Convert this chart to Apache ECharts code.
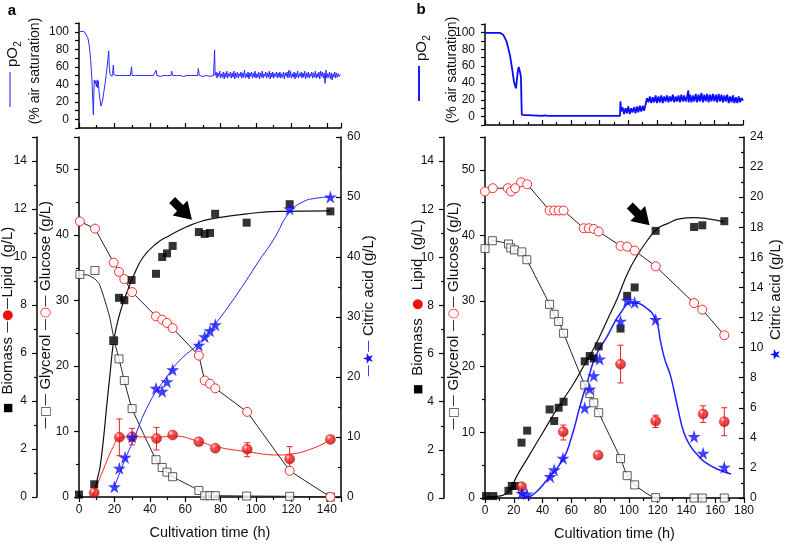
<!DOCTYPE html>
<html>
<head>
<meta charset="utf-8">
<script src="https://cdn.jsdelivr.net/npm/echarts@6/dist/echarts.min.js"></script>
<style>
html, body { margin: 0; padding: 0; background: #fff; }
#chart { width: 785px; height: 547px; }
</style>
</head>
<body>
<div id="chart"></div>
<script>
// ---------- panel a : [time h, value] ----------
const biomassA = [[0,0.1],[8.6,0.53],[19.6,6.5],[22.6,8.3],[25.6,8.2],[29.7,9.04],[43.5,9.3],[47,10.0],[49.7,10.15],[52.9,10.46],[67.7,11.04],[71,10.96],[74,11.0],[76.9,11.8],[94.7,11.43],[119,12.2],[142,11.9]];
const biomassFitA = [[0,0.1],[2.5,-0.05],[5.3,-0.2],[7,-0.1],[8.6,0.22],[10.5,0.8],[11.9,1.26],[13.8,2.4],[15.6,3.76],[17.5,5.1],[19.4,6.4],[21.5,7.2],[24.1,7.9],[26.9,8.5],[30.7,9.2],[36.3,10.0],[43.9,10.57],[51.2,10.9],[60.8,11.26],[68.3,11.47],[75.8,11.6],[94.7,11.8],[113,11.9],[142,11.92]];
const glycerolA = [[0.5,34.0],[9,34.6],[19.6,23.9],[22.6,21.1],[25.6,17.8],[30,13.5],[43.5,5.7],[47,4.5],[49.7,3.8],[52.9,3.1],[67.7,1.0],[71,0.2],[74,0.2],[77,0.2],[94.7,0.15],[119,0.1],[142,0]];
const glycerolLineA = [[0.5,34.0],[5,33.9],[9,33.3],[11.3,32.6],[13.5,31.0],[17.3,27.5],[20,23.8],[22.6,21.1],[25.6,17.8],[30,13.5],[43.5,5.7],[47,4.5],[49.7,3.8],[52.9,3.1],[67.7,1.0],[71,0.2],[74,0.2],[77,0.2],[94.7,0.15],[119,0.1],[142,0]];
const glucoseA = [[0.5,42.1],[9,41.0],[19.6,35.8],[22.6,34.4],[25.6,33.3],[30,31.3],[43.5,27.6],[47,27.1],[49.7,26.6],[52.9,25.8],[67.7,21.6],[71,17.8],[74,17.3],[77,16.6],[95,13.0],[119,4.0],[142,0]];
const lipidA = [[8.6,0.18],[22.8,2.49],[30,2.51],[43.8,2.44],[52.9,2.58],[67.7,2.3],[77,2.03],[95,1.99],[119,1.58],[142,2.4]];
const lipidErrA = [[22.8,1.72,3.25],[30,2.17,2.86],[43.8,1.96,2.9],[95,1.68,2.26],[119,1.1,2.1]];
const lipidFitA = [[8.6,0.18],[13.7,1.13],[19.4,2.1],[22.8,2.45],[30.7,2.51],[43.9,2.49],[53.2,2.54],[68.3,2.3],[77.2,2.1],[94.7,1.89],[113.5,1.75],[119.1,1.78],[132.3,2.03],[142.3,2.4]];
const citricA = [[20,1.7],[22.8,4.8],[26,6.6],[30,10.0],[43.5,18.1],[47,17.6],[49.7,19.2],[52.9,21.2],[67.7,25.3],[71,26.7],[74,27.7],[77,28.7],[119,48.0],[142,50.0]];
const citricFitA = [[20,1.7],[25,5.5],[30,9.0],[40,15.8],[50,20.2],[57,22.8],[67.7,25.6],[75.8,28.4],[85,32.0],[94.7,36.2],[102,39.5],[109.7,42.8],[119,47.5],[126.6,49.2],[134,49.8],[142,50.0]];
// pO2 trace, start-up part as [time, %]
const pO2A = [[0,100],[1.5,100.5],[3,100],[4,98],[5,93],[5.8,84],[6.6,68],[7.3,45],[7.8,22],[8.1,5],[8.4,30],[8.6,45],[9,41],[9.4,44],[9.8,37],[10.3,45],[10.6,36],[10.9,44],[11.4,30],[11.9,22],[12.4,15],[12.9,16],[13.4,22],[14,31],[14.7,40],[15.3,50],[16,62],[16.5,72],[16.8,78],[17.1,60],[17.5,52],[18,50],[18.5,49],[19,52],[19.4,62],[19.7,51],
  [20,51],[21,50],[22,51],[23,50],[24,52],[25,50],[26,51],[27,50],[28,51],[29,50],[29.7,60],[30,50],[31,51],[32,50],[33,51],[34,50],[35,52],[36,50],[37,51],[38,50],[39,51],[40,50],[41,51],[42,50],[43,51],[43.5,56],[44,50],[45,51],[46,49],[47,51],[48,50],[49,51],[50,50],[51,51],[52,50],[52.3,55],[53,50],[54,51],[55,50],[56,52],[57,50],[58,51],[59,49],[60,51],[61,50],[62,52],[63,50],[64,51],[65,50],[66,51],[67,50],[67.4,58],[68,50],[69,51],[70,49],[71,51],[72,50],[73,51],[74,49],[75,51],[76,50],[76.6,79],[76.9,50]];
// logged every 0.5 h from 77 h onwards
const pO2ABandStart = 77, pO2ABandStep = 0.5;
const pO2ABand = [
  48,54,47,53,49,55,47,52,48,54, 46,53,48,55,47,52,49,54,47,53,
  48,55,46,53,48,54,47,52,49,54, 47,53,48,56,47,52,48,54,46,53,
  49,54,47,53,48,55,47,52,48,54, 46,53,48,55,47,52,49,54,47,53,
  48,55,46,53,48,54,47,52,49,54, 47,53,48,54,47,52,48,54,46,53,
  49,54,47,56,48,55,47,52,48,54, 46,53,48,55,47,52,49,54,47,53,
  48,55,46,53,48,54,47,52,49,54, 47,53,48,55,47,52,48,54,46,55,
  49,54,47,53,41,56,47,52,48,54, 46,53,45,52,48,54,47,53,48,52,
  49,51];

// ---------- panel b ----------
const biomassB = [[0.7,0.08],[5.8,0.08],[16.3,0.3],[18.6,0.5],[21,0.5],[25.4,2.3],[29.3,2.8],[44.9,3.68],[48.1,3.2],[51.2,3.75],[54.6,4.0],[69.3,5.68],[72.8,5.9],[75.6,5.8],[79,6.3],[94.2,7.04],[98.8,8.4],[104,8.75],[118.6,11.1],[145.3,11.26],[151,11.33],[166.3,11.5]];
const biomassFitB = [[0,0.05],[10,0.08],[15,0.2],[18,0.4],[22,0.9],[30,1.7],[40,2.7],[50,3.7],[60,4.6],[66.3,5.24],[76.7,6.35],[85,7.4],[92,8.3],[98.8,9.3],[105,10.0],[112.8,10.7],[120,11.2],[126.8,11.4],[135,11.6],[145.3,11.65],[155,11.6],[166.3,11.47]];
const glycerolB = [[0,38.0],[5.1,39.2],[16.3,38.7],[17.9,38.1],[20.5,37.8],[25.6,37.5],[29.1,36.3],[44.9,29.5],[48.1,28.0],[51.2,26.9],[54.6,25.1],[69.3,17.2],[72.8,15.9],[75.6,14.5],[79,13.0],[94.2,6.0],[98.8,3.4],[104,2.0],[118.6,0.05],[145.3,0],[151,0],[166.3,0]];
const glucoseB = [[0,46.7],[5.4,47.2],[15.8,47.2],[18.1,46.7],[21,47.2],[25.1,48.1],[29.3,47.8],[44.9,43.8],[48.1,43.8],[51.2,43.8],[54.6,43.8],[68.6,41.1],[72.1,41.1],[75.6,41.0],[79,40.6],[94.2,38.4],[98.8,38.3],[104,37.7],[118.6,35.3],[145.3,29.7],[151,28.7],[166.3,24.8]];
const lipidB = [[25.4,0.47],[54.4,2.75],[78.6,1.78],[94.2,5.56],[118.6,3.2],[151.6,3.49],[166.3,3.17]];
const lipidErrB = [[54.4,2.41,3.03],[94.2,4.78,6.35],[118.6,2.93,3.44],[151.6,3.14,3.83],[166.3,2.59,3.75]];
const citricB = [[25.6,0.31],[29.1,0.27],[45.3,1.42],[48.1,1.87],[54.2,2.64],[69.3,6.0],[72.8,7.25],[75.6,8.13],[79.7,9.24],[94.2,11.75],[98.8,13.13],[104,13.0],[118.6,11.87],[145.3,4.09],[151.6,2.98],[166.3,2.04]];
const citricFitB = [[23,0.42],[26,0.2],[29,0.09],[35,0.35],[43,1.2],[54,2.53],[60,4.0],[66.3,6.2],[72,8.0],[76.7,9.4],[84.9,10.75],[94.2,12.3],[102.3,12.98],[110.5,12.75],[118.6,11.87],[122,10.4],[125,9.2],[129,8.1],[133.7,6.1],[138.4,4.3],[143,3.42],[147.7,2.87],[152.3,2.42],[161.7,1.91],[171,1.6]];
const pO2B = [[0,99.5],[5,99.5],[10.5,99.5],[12.8,97],[15.1,89],[17.4,73],[19.1,55],[20.2,41.5],[21,37],[21.6,33.6],[22,40],[22.6,49],[23.1,56],[23.5,59],[24,57],[24.4,53],[24.8,50],[25.1,47],[25.4,20],[25.7,2],[26.7,0.8],[40,0.8],[42,1.5],[44,0.9],[60,0.8],[80,0.9],[94.2,1.0],
  [94.5,18],[95,6],[96,11],[97,3],[98,10],[99,4],[100,12],[101,3],[102,10],[103,5],[104,11],[105,4],[106,12],[107,5],[108,13],[109,6],[110,13],[111,7],[112,14],[112.6,12],
  [113,22],[114,17],[115,24],[116,16],[117,23],[118,17],[119,25],[120,16],[121,24],[122,17],[123,25],[124,16],[125,24],[126,18],[127,25],[128,17],[129,24],[130,18],[131,26],[132,17],[133,24],[134,18],[135,25],[136,17],[137,26],[138,18],[139,25],[140,18],[141,24],[141.9,31],[142,17],[143,26],[144,17],[145,25],[146,18],[147,27],[148,17],[149,26],[150,18],[151,28],[152,17],[153,26],[154,18],[155,27],[156,17],[157,26],[158,18],[159,27],[160,18],[161,26],[162,17],[163,27],[164,18],[165,26],[166,17],[167,25],[168,18],[169,26],[170,16],[171,24],[172,17],[173,25],[174,16],[175,23],[176,16],[177,24],[178,17],[179,22],[180,19]];

// arrow annotations [time, biomass]
const arrowA = [58.2, 11.96];
const arrowB = [107.5, 11.74];

const FONT = 'Liberation Sans, Arial, sans-serif';
const STAR = 'path://M50,0 L61.2,34.5 L97.6,34.5 L68.2,55.9 L79.4,90.5 L50,69.1 L20.6,90.5 L31.8,55.9 L2.4,34.5 L38.8,34.5 Z';
const ARROW = 'path://M0,9 L12,9 L12,0 L30,15 L12,30 L12,21 L0,21 Z';
const ball = new echarts.graphic.RadialGradient(0.35, 0.3, 0.75, [
  { offset: 0, color: '#ffe6e6' },
  { offset: 0.3, color: '#ff2a2a' },
  { offset: 1, color: '#b00000' }
]);

const pO2AFull = pO2A.concat(pO2ABand.map((v, i) => [pO2ABandStart + i * pO2ABandStep, v]));

function xAx(grid, max, top) {
  return {
    type: 'value', gridIndex: grid, min: 0, max: max, interval: 20,
    axisLine: { onZero: false, lineStyle: { color: '#000', width: 1.5 } },
    axisTick: { inside: top, length: 5, lineStyle: { color: '#000', width: 1.2 } },
    minorTick: { show: true, splitNumber: 2, length: 3, lineStyle: { color: '#000', width: 1.2 } },
    axisLabel: { show: !top, margin: 7, color: '#111', fontSize: 12, fontFamily: FONT },
    splitLine: { show: false },
    name: top ? '' : 'Cultivation time (h)', nameLocation: 'middle', nameGap: 28,
    nameTextStyle: { fontSize: 14.5, color: '#111', fontFamily: FONT }
  };
}
function yAx(grid, min, max, interval, pos, offset, opt) {
  opt = opt || {};
  return {
    type: 'value', gridIndex: grid, min: min, max: max, interval: interval,
    position: pos, offset: offset,
    axisLine: { show: true, onZero: false, lineStyle: { color: '#000', width: 1.5 } },
    axisTick: { show: true, inside: pos === 'right', length: opt.tickLen || 5, lineStyle: { color: '#000', width: 1.2 } },
    minorTick: { show: opt.minor !== false, splitNumber: 2, length: 3, lineStyle: { color: '#000', width: 1.2 } },
    axisLabel: { margin: pos === 'right' ? 6 : 10, color: '#111', fontSize: 12, fontFamily: FONT,
      formatter: opt.fmt, showMaxLabel: opt.maxLabel !== false },
    splitLine: { show: false }
  };
}
// label only multiples of 20 on the pO2 axes
const fmt20 = v => (v >= 0 && v <= 100 && v % 20 === 0) ? String(v) : '';

function errRender(params, api) {
  const x = api.value(0);
  const hi = api.coord([x, api.value(2)]);
  const lo = api.coord([x, api.value(1)]);
  const w = 3;
  const st = { stroke: '#e82020', lineWidth: 1 };
  return { type: 'group', children: [
    { type: 'line', shape: { x1: hi[0], y1: hi[1], x2: lo[0], y2: lo[1] }, style: st },
    { type: 'line', shape: { x1: hi[0] - w, y1: hi[1], x2: hi[0] + w, y2: hi[1] }, style: st },
    { type: 'line', shape: { x1: lo[0] - w, y1: lo[1], x2: lo[0] + w, y2: lo[1] }, style: st }
  ] };
}

function panelSeries(xi, yG, yB, yC, d) {
  return [
    { type: 'line', xAxisIndex: xi, yAxisIndex: yG, data: d.glyLine, showSymbol: false, smooth: 0.2,
      lineStyle: { color: '#222', width: 1 }, z: 2 },
    { type: 'scatter', xAxisIndex: xi, yAxisIndex: yG, data: d.gly, symbol: 'rect', symbolSize: 8,
      itemStyle: { color: '#fff', borderColor: '#333', borderWidth: 1 }, z: 3 },
    { type: 'line', xAxisIndex: xi, yAxisIndex: yG, data: d.glu, symbol: 'circle', symbolSize: 9,
      lineStyle: { color: '#222', width: 1 }, itemStyle: { color: '#fff', borderColor: '#ff2a2a', borderWidth: 1 }, z: 3 },
    { type: 'line', xAxisIndex: xi, yAxisIndex: yC, data: d.citFit, showSymbol: false, smooth: true,
      lineStyle: { color: '#2020ff', width: d.citW }, z: 2 },
    { type: 'scatter', xAxisIndex: xi, yAxisIndex: yC, data: d.cit, symbol: STAR, symbolSize: 13,
      itemStyle: { color: '#1010ff' }, z: 5 },
    { type: 'line', xAxisIndex: xi, yAxisIndex: yB, data: d.bioFit, showSymbol: false, smooth: true,
      lineStyle: { color: '#111', width: 1.2 }, z: 2,
      markPoint: { symbol: ARROW, symbolSize: [28, 21], symbolRotate: -45, silent: true,
        itemStyle: { color: '#000' }, label: { show: false }, data: [{ coord: d.arrow }] } },
    { type: 'scatter', xAxisIndex: xi, yAxisIndex: yB, data: d.bio, symbol: 'rect', symbolSize: 8,
      itemStyle: { color: '#000' }, z: 4 },
    d.lipFit ? { type: 'line', xAxisIndex: xi, yAxisIndex: yB, data: d.lipFit, showSymbol: false, smooth: true,
      lineStyle: { color: '#ff2020', width: 1 }, z: 2 } : null,
    { type: 'custom', xAxisIndex: xi, yAxisIndex: yB, data: d.lipErr, renderItem: errRender,
      encode: { x: 0, y: [1, 2] }, z: 3 },
    { type: 'scatter', xAxisIndex: xi, yAxisIndex: yB, data: d.lip, symbol: 'circle', symbolSize: 10,
      itemStyle: { color: ball, borderColor: '#c00000', borderWidth: 0.5 }, z: 4 }
  ].filter(Boolean);
}

function rotText(x, y, text, size, rich) {
  return { type: 'text', x: x, y: y, rotation: Math.PI / 2, silent: true,
    style: { text: text, fill: '#111', font: size + 'px ' + FONT, align: 'center', verticalAlign: 'middle', rich: rich || {} } };
}
// "—pO2" legend label of the oxygen plots
function pO2Label(x, y, lineW) {
  return [
    { type: 'line', silent: true, shape: { x1: x - 3, y1: y + 15, x2: x - 3, y2: y + 50 },
      style: { stroke: '#1a1aff', lineWidth: lineW } },
    rotText(x, y, 'pO', 15),
    rotText(x + 5, y - 13, '2', 10)
  ];
}
const SYMF = 'DejaVu Sans, sans-serif';
const richMain = {
  sq: { fill: '#000', color: '#000', fontSize: 11, fontFamily: SYMF },
  d: { fill: '#111', color: '#111', fontSize: 12, fontFamily: SYMF },
  bd: { fill: '#2020ff', color: '#2020ff', fontSize: 12, fontFamily: SYMF },
  ball: { fill: '#ee1111', color: '#ee1111', fontSize: 13, fontFamily: SYMF },
  osq: { fill: '#444', color: '#444', fontSize: 12, fontFamily: SYMF },
  oc: { fill: '#ff2a2a', color: '#ff2a2a', fontSize: 13, fontFamily: SYMF },
  star: { fill: '#1010ff', color: '#1010ff', fontSize: 14, fontFamily: SYMF }
};

const chart = echarts.init(document.getElementById('chart'), null, { renderer: 'canvas' });
chart.setOption({
  animation: false,
  backgroundColor: '#fff',
  grid: [
    { left: 79, top: 23, width: 262, height: 105 },
    { left: 79, top: 137, width: 262, height: 360 },
    { left: 485, top: 24, width: 258, height: 101 },
    { left: 485, top: 137, width: 259, height: 361 }
  ],
  xAxis: [xAx(0, 148, true), xAx(1, 148, false), xAx(2, 180, true), xAx(3, 180, false)],
  yAxis: [
    yAx(0, -10, 110, 10, 'left', 0, { minor: false, tickLen: 4, fmt: fmt20 }),
    yAx(1, 0, 55, 10, 'left', 0, { maxLabel: false }),
    yAx(1, 0, 15, 2, 'left', 42, { maxLabel: false }),
    yAx(1, 0, 60, 10, 'right', 0),
    yAx(2, -10, 110, 10, 'left', 0, { minor: false, tickLen: 4, fmt: fmt20 }),
    yAx(3, 0, 55, 10, 'left', 0, { maxLabel: false }),
    yAx(3, 0, 15, 2, 'left', 41, { maxLabel: false }),
    yAx(3, 0, 24, 2, 'right', 0)
  ],
  graphic: [
    { type: 'text', x: 12, y: 11, silent: true, style: { text: 'a', font: 'bold 15px ' + FONT, fill: '#000', align: 'center', verticalAlign: 'middle' } },
    { type: 'text', x: 421, y: 10, silent: true, style: { text: 'b', font: 'bold 15px ' + FONT, fill: '#000', align: 'center', verticalAlign: 'middle' } },
    rotText(35, 71, '(% air saturation)', 14),
    rotText(452, 70, '(% air saturation)', 14),
    rotText(8, 320, '{sq|■}  Biomass {d|—}{ball|●}{d|—}Lipid  (g/L)', 15, richMain),
    rotText(46, 315, '{d|—}{osq|□}{d|—} Glycerol {d|—}{oc|○}{d|—} Glucose (g/L)', 15, richMain),
    rotText(369, 306, '{bd|—}{star|★}{bd|—} Citric acid (g/L)', 15, richMain),
    rotText(418, 307, '{sq|■}  Biomass  {ball|●}  Lipid  (g/L)', 15, richMain),
    rotText(454, 316, '{d|—}{osq|□}{d|—} Glycerol {d|—}{oc|○}{d|—} Glucose (g/L)', 15, richMain),
    rotText(776, 300, '{star|★}  Citric acid (g/L)', 15, richMain)
  ].concat(pO2Label(13, 57, 1), pO2Label(422, 51, 2)),
  series: [
    { type: 'line', xAxisIndex: 0, yAxisIndex: 0, data: pO2AFull, showSymbol: false,
      lineStyle: { color: '#2a2aff', width: 1 } },
    { type: 'line', xAxisIndex: 2, yAxisIndex: 4, data: pO2B, showSymbol: false,
      lineStyle: { color: '#0a0aff', width: 1.8 } }
  ].concat(
    panelSeries(1, 1, 2, 3, { glyLine: glycerolLineA, gly: glycerolA, glu: glucoseA, citFit: citricFitA, cit: citricA, citW: 1,
      bioFit: biomassFitA, bio: biomassA, lipFit: lipidFitA, lipErr: lipidErrA, lip: lipidA, arrow: arrowA }),
    panelSeries(3, 5, 6, 7, { glyLine: glycerolB, gly: glycerolB, glu: glucoseB, citFit: citricFitB, cit: citricB, citW: 1.5,
      bioFit: biomassFitB, bio: biomassB, lipFit: null, lipErr: lipidErrB, lip: lipidB, arrow: arrowB })
  )
});
</script>
</body>
</html>
